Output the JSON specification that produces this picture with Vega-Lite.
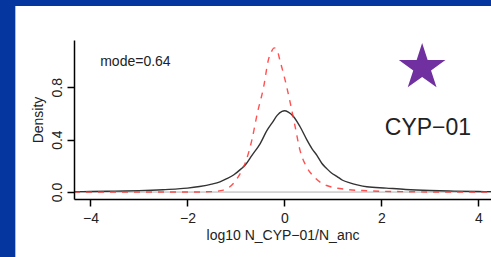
{
  "$schema": "https://vega.github.io/schema/vega-lite/v6.json",
  "autosize": {"type": "none"},
  "width": 417,
  "height": 159,
  "padding": {"left": 74, "top": 40, "right": 0, "bottom": 58},
  "background": "#0536a0",
  "config": {
    "view": {"stroke": null},
    "font": "Liberation Sans"
  },
  "datasets": {
    "black": [
      {"x": -4.34, "y": 0.003}, {"x": -4.0, "y": 0.004}, {"x": -3.5, "y": 0.007},
      {"x": -3.0, "y": 0.011}, {"x": -2.5, "y": 0.018}, {"x": -2.2, "y": 0.024},
      {"x": -2.0, "y": 0.03}, {"x": -1.75, "y": 0.042}, {"x": -1.5, "y": 0.06},
      {"x": -1.33, "y": 0.078}, {"x": -1.2, "y": 0.1}, {"x": -1.05, "y": 0.13},
      {"x": -0.9, "y": 0.175}, {"x": -0.8, "y": 0.21}, {"x": -0.67, "y": 0.28},
      {"x": -0.5, "y": 0.37}, {"x": -0.36, "y": 0.47}, {"x": -0.25, "y": 0.53},
      {"x": -0.15, "y": 0.585}, {"x": -0.05, "y": 0.615}, {"x": 0.0, "y": 0.62},
      {"x": 0.08, "y": 0.61}, {"x": 0.19, "y": 0.575}, {"x": 0.32, "y": 0.5},
      {"x": 0.46, "y": 0.4}, {"x": 0.57, "y": 0.33}, {"x": 0.67, "y": 0.28},
      {"x": 0.77, "y": 0.22}, {"x": 0.87, "y": 0.18}, {"x": 0.97, "y": 0.145},
      {"x": 1.08, "y": 0.12}, {"x": 1.2, "y": 0.09}, {"x": 1.35, "y": 0.07},
      {"x": 1.5, "y": 0.055}, {"x": 1.7, "y": 0.04}, {"x": 2.1, "y": 0.03},
      {"x": 2.5, "y": 0.02}, {"x": 3.0, "y": 0.012}, {"x": 3.5, "y": 0.007},
      {"x": 4.0, "y": 0.004}, {"x": 4.26, "y": 0.003}
    ],
    "red": [
      {"x": -4.34, "y": 0}, {"x": -2.0, "y": 0}, {"x": -1.5, "y": 0.003},
      {"x": -1.26, "y": 0.015}, {"x": -1.02, "y": 0.08}, {"x": -0.9, "y": 0.15},
      {"x": -0.81, "y": 0.22}, {"x": -0.67, "y": 0.4}, {"x": -0.56, "y": 0.6},
      {"x": -0.43, "y": 0.8}, {"x": -0.33, "y": 1.01}, {"x": -0.27, "y": 1.07},
      {"x": -0.21, "y": 1.1}, {"x": -0.15, "y": 1.08}, {"x": -0.09, "y": 1.0},
      {"x": 0.01, "y": 0.86}, {"x": 0.12, "y": 0.68}, {"x": 0.22, "y": 0.5},
      {"x": 0.32, "y": 0.32}, {"x": 0.46, "y": 0.19}, {"x": 0.6, "y": 0.12},
      {"x": 0.87, "y": 0.05}, {"x": 1.29, "y": 0.02}, {"x": 1.7, "y": 0.01},
      {"x": 2.5, "y": 0.003}, {"x": 3.5, "y": 0}, {"x": 4.26, "y": 0}
    ],
    "notes": [
      {"x": -3.8, "y": 0.96, "label": "mode=0.64"}
    ],
    "names": [
      {"x": 2.96, "y": 0.435, "label": "CYP−01"}
    ],
    "stars": [
      {"x": 2.84, "y": 0.95}
    ]
  },
  "layer": [
    {
      "data": {"values": [{"a": 1}]},
      "mark": {"type": "rect", "fill": "white", "clip": false},
      "encoding": {
        "x": {"datum": -5.55, "type": "quantitative"},
        "x2": {"datum": 5.0},
        "y": {"datum": 1.42, "type": "quantitative"},
        "y2": {"datum": -0.6}
      }
    },
    {
      "data": {"values": [{"a": 1}]},
      "mark": {"type": "rule", "color": "#b0b0b0", "strokeWidth": 1},
      "encoding": {"y": {"datum": 0, "type": "quantitative"}}
    },
    {
      "data": {"name": "black"},
      "mark": {"type": "line", "color": "#333333", "strokeWidth": 1.4, "interpolate": "monotone"},
      "encoding": {
        "x": {
          "field": "x", "type": "quantitative",
          "scale": {"domain": [-4.34, 4.26], "nice": false, "zero": false},
          "axis": {
            "values": [-4, -2, 0, 2, 4],
            "zindex": 1,
            "grid": false,
            "domainColor": "black", "domainWidth": 1.5,
            "tickColor": "black", "tickWidth": 1.5, "tickSize": 7,
            "labelFontSize": 14, "labelColor": "#222", "labelPadding": 5,
            "labelFlush": false,
            "title": "log10 N_CYP−01/N_anc",
            "titleFontSize": 14, "titleFontWeight": "normal", "titleColor": "#222",
            "titlePadding": 3
          }
        },
        "y": {
          "field": "y", "type": "quantitative",
          "scale": {"domain": [-0.053, 1.16], "nice": false, "zero": false},
          "axis": {
            "values": [0, 0.2, 0.4, 0.6, 0.8, 1.0],
            "zindex": 1,
            "grid": false,
            "domainColor": "black", "domainWidth": 1.5,
            "tickColor": "black", "tickWidth": 1.5, "tickSize": 7,
            "labelExpr": "(abs(datum.value-0.2)<0.01 || abs(datum.value-0.6)<0.01 || datum.value>0.9) ? '' : format(datum.value, '.1f')",
            "labelAngle": -90, "labelAlign": "center", "labelBaseline": "bottom",
            "labelFontSize": 14, "labelColor": "#222", "labelPadding": 3,
            "labelFlush": false,
            "title": "Density",
            "titleFontSize": 14, "titleFontWeight": "normal", "titleColor": "#222",
            "titlePadding": 5
          }
        }
      }
    },
    {
      "data": {"name": "red"},
      "mark": {"type": "line", "color": "#ff3333", "opacity": 0.85, "strokeWidth": 1.4, "strokeDash": [6, 6], "interpolate": "monotone"},
      "encoding": {
        "x": {"field": "x", "type": "quantitative"},
        "y": {"field": "y", "type": "quantitative"}
      }
    },
    {
      "data": {"name": "notes"},
      "mark": {"type": "text", "align": "left", "baseline": "alphabetic", "fontSize": 14, "color": "#222"},
      "encoding": {
        "x": {"field": "x", "type": "quantitative"},
        "y": {"field": "y", "type": "quantitative"},
        "text": {"field": "label"}
      }
    },
    {
      "data": {"name": "names"},
      "mark": {"type": "text", "align": "center", "baseline": "alphabetic", "fontSize": 23, "color": "#222"},
      "encoding": {
        "x": {"field": "x", "type": "quantitative"},
        "y": {"field": "y", "type": "quantitative"},
        "text": {"field": "label"}
      }
    },
    {
      "data": {"name": "stars"},
      "mark": {
        "type": "point", "filled": true, "color": "#7030a0", "opacity": 1, "size": 2400,
        "shape": "M0,-1L0.2245,-0.309L0.951,-0.309L0.363,0.118L0.588,0.809L0,0.382L-0.588,0.809L-0.363,0.118L-0.951,-0.309L-0.2245,-0.309Z"
      },
      "encoding": {
        "x": {"field": "x", "type": "quantitative"},
        "y": {"field": "y", "type": "quantitative"}
      }
    }
  ]
}
